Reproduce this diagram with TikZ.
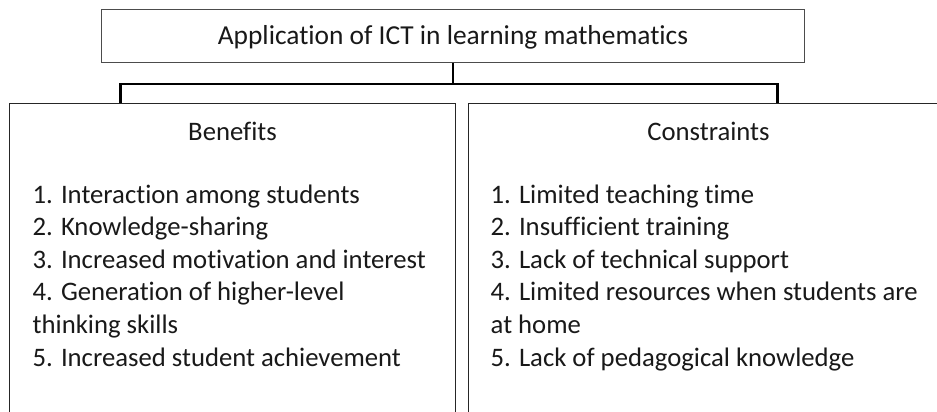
\documentclass[tikz,border=0pt]{standalone}
\usepackage{fontspec}
\setmainfont[Ligatures={NoCommon}]{Carlito}
\usetikzlibrary{calc}
\tikzset{
  boxline/.style={draw=black!85, line width=1pt, outer sep=0pt, inner sep=0pt},
  conn/.style={draw=black, line width=2.6pt},
  txt/.style={anchor=base west, inner sep=0pt, font=\fontsize{26.7}{32.6}\selectfont, text=black!90},
  head/.style={anchor=base, inner sep=0pt, font=\fontsize{26.7}{32.6}\selectfont, text=black!90}
}
\begin{document}
\begin{tikzpicture}[x=1pt,y=-1pt]
\useasboundingbox (0,0) rectangle (937,412);
\clip (0,0) rectangle (937,412);
\fill[white] (0,0) rectangle (937,412);
% boxes
\node[boxline, draw=black!70, minimum width=703, minimum height=53, anchor=north west] (top) at (101,10) {};
\node[boxline, minimum width=446, minimum height=330, anchor=north west] (ben) at (9.5,103) {};
\node[boxline, minimum width=481, minimum height=330, anchor=north west] (con) at (468.3,103) {};
% title and headings
\node[head, font=\fontsize{27.4}{32.6}\selectfont] (title) at (453,45) {Application of ICT in learning mathematics};
\node[head] (hben) at (232.5,140) {Benefits};
\node[head] (hcon) at (708.5,140) {Constraints};
% lists
\foreach \t [count=\i] in {1. Interaction among students,2. Knowledge-sharing,3. Increased motivation and interest,4. Generation of higher-level,thinking skills,5. Increased student achievement}
  \node[txt] (b\i) at (32.5,{203+32.6*(\i-1)}) {\t};
\foreach \t [count=\i] in {1. Limited teaching time,2. Insufficient training,3. Lack of technical support,4. Limited resources when students are,at home,5. Lack of pedagogical knowledge}
  \node[txt] (c\i) at (490.5,{203+32.6*(\i-1)}) {\t};
% connectors
\coordinate (j) at ($(top.south)+(0,21)$);
\coordinate (dl) at ($(ben.north west)+(111,0)$);
\coordinate (dr) at ($(con.north west)+(309.4,0)$);
\draw[conn, line width=2pt] (top.south) -- (j);
\draw[conn] (dl) |- (j) -| (dr);
\end{tikzpicture}
\end{document}
